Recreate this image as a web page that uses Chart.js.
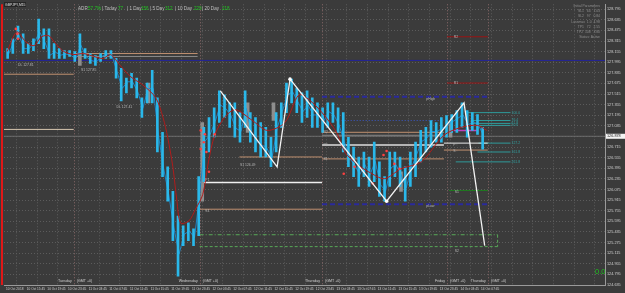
<!DOCTYPE html>
<html>
<head>
<meta charset="utf-8">
<script src="https://cdn.jsdelivr.net/npm/chart.js@4.4.1/dist/chart.umd.min.js"></script>
<style>
  html, body { margin: 0; padding: 0; background: #3b3b3b; overflow: hidden; }
</style>
</head>
<body>
<canvas id="chart" width="625" height="293"></canvas>
<script>
// GBPJPY M15, one sample per hour, hours after 10 Oct 11:45
var highs = [128.200,128.349,128.542,128.423,128.275,128.349,128.646,128.498,128.498,128.275,
             128.200,128.171,128.171,128.156,128.423,128.200,128.126,128.096,128.126,128.171,
             128.171,128.052,127.903,127.755,127.829,127.755,127.458,127.681,127.874,127.458,
             126.938,126.418,126.046,125.675,125.527,125.571,125.482,126.269,127.012,127.161,
             127.309,127.562,127.502,127.383,127.383,127.235,127.562,127.235,127.161,127.086,
             127.012,126.863,127.235,127.383,127.681,127.740,127.606,127.532,127.562,127.458,
             127.383,127.309,127.383,127.383,127.309,127.235,126.863,126.715,126.566,126.641,
             126.566,126.789,126.492,126.269,126.641,126.641,126.566,126.418,126.641,126.789,
             126.967,127.012,127.116,127.086,127.161,127.190,127.205,127.265,127.383,127.265,
             127.235,127.205,127.012];
var lows  = [128.052,128.126,128.349,128.126,128.126,128.171,128.275,128.200,128.052,128.052,
             128.052,128.052,128.082,128.007,128.096,128.052,127.978,127.948,128.007,128.052,
             128.052,127.755,127.413,127.532,127.606,127.458,127.161,127.383,127.383,126.641,
             126.269,125.898,125.304,124.769,125.229,125.304,125.229,125.378,126.195,126.641,
             126.863,127.086,127.161,127.012,126.863,126.789,127.012,126.789,126.641,126.566,
             126.566,126.418,126.641,127.012,127.235,127.383,127.235,127.086,127.161,127.012,
             127.012,126.938,127.012,127.086,126.938,126.641,126.418,126.269,126.120,126.269,
             126.120,126.195,125.972,125.898,126.120,126.269,126.120,125.898,126.120,126.269,
             126.492,126.641,126.715,126.789,126.789,126.863,126.938,126.938,127.012,126.863,
             126.967,126.908,126.685];
var closes = [128.12,128.30,128.40,128.20,128.20,128.30,128.45,128.30,128.10,128.15,
              128.10,128.12,128.10,128.05,128.25,128.08,128.02,128.00,128.08,128.12,
              128.10,127.85,127.60,127.70,127.70,127.55,127.30,127.60,127.60,126.90,
              126.40,126.00,125.50,125.10,125.40,125.45,125.35,126.00,126.80,126.90,
              127.10,127.35,127.30,127.20,127.00,126.95,127.30,126.95,126.80,126.75,
              126.70,126.55,127.00,127.25,127.50,127.55,127.40,127.25,127.35,127.20,
              127.20,127.10,127.25,127.20,127.05,126.80,126.55,126.45,126.30,126.45,
              126.30,126.50,126.15,126.05,126.40,126.45,126.30,126.10,126.40,126.60,
              126.80,126.85,126.95,126.95,127.00,127.05,127.10,127.15,127.20,127.05,
              127.10,127.05,126.88];

// grey candles (hour, low, high)
var greyHours = [14.0, 27.3, 37.7, 46.5, 51.5, 76.2, 85.8];
var greyLows  = [127.948, 127.383, 125.898, 126.938, 127.116, 126.046, 126.863];
var greyHighs = [128.156, 127.681, 127.086, 127.383, 127.383, 126.343, 127.086];

// zigzag turning points
var zigHours  = [41.5, 52.5, 55.0, 73.7, 88.7, 92.7];
var zigPrices = [127.562, 126.418, 127.740, 125.898, 127.383, 125.229];

// moving average line
var maHours  = [0.2, 2.1, 3.8, 5.4, 6.9, 8.3, 9.6, 11.2, 13.1, 15.0, 17.0, 18.8, 20.2, 22.1, 24.0,
                26.5, 29.0, 30.4, 31.3, 32.3, 33.1, 33.8, 35.4, 36.7, 38.1, 39.2, 40.4, 42.3, 44.4,
                47.7, 50.6, 54.0, 56.7, 58.7, 61.2, 64.0, 65.6, 67.9, 70.2, 73.3, 76.5, 80.4, 84.8,
                88.1, 91.3, 93.1];
var maPrices = [128.156, 128.453, 128.304, 128.245, 128.379, 128.394, 128.275, 128.156, 128.111,
                128.126, 128.082, 128.052, 128.111, 127.948, 127.784, 127.651, 127.458, 127.161,
                126.863, 126.418, 125.898, 125.571, 125.601, 125.779, 126.002, 126.492, 126.893,
                127.161, 127.279, 127.116, 126.967, 127.086, 127.502, 127.428, 127.235, 126.938,
                126.641, 126.462, 126.343, 126.239, 126.389, 126.492, 126.893, 127.012, 127.042,
                126.967];

// fractal dots
var dotHours  = [1.9, 2.2, 2.3, 37.7, 38.5, 37.7, 38.8, 39.3, 38.3, 40.4, 65.4, 67.5, 71.0, 73.1, 73.7, 75.2, 76.2];
var dotPrices = [128.498, 128.423, 128.349, 126.967, 126.908, 126.685, 126.641, 126.343, 126.789, 126.908,
                 126.314, 126.418, 126.165, 126.596, 126.655, 126.462, 126.389];

// horizontal levels: price, from hour, to hour
var levelPrice = [128.022, 128.126, 128.082, 127.814, 126.982, 126.878, 126.180, 126.566, 125.778,
                  126.938, 126.893, 126.745, 126.537, 126.775, 126.670, 127.473, 125.853, 127.116,
                  128.379, 127.681, 126.061, 125.393, 125.214, 126.967];
var levelFrom  = [-0.4, 13.1, 13.1, -0.4, -0.4, -0.4, 37.5, 45.2, 37.5,
                  61.2, 61.2, 61.2, 61.2, 84.8, 84.8, 61.2, 61.2, 65.0,
                  85.4, 85.4, 85.8, 37.5, 37.5, 86.7];
var levelTo    = [116, 37.1, 37.1, 13.1, 13.1, 116, 61.2, 61.2, 61.2,
                  84.8, 84.8, 84.8, 84.8, 93.3, 93.3, 93.3, 93.3, 84.8,
                  93.3, 93.3, 93.3, 95.2, 95.2, 91.4];

// fibonacci levels
var fibPrice = [127.235, 127.116, 127.072, 127.042, 126.775, 126.641, 126.492];
var fibFrom  = [89.4, 90.0, 90.0, 90.0, 91.5, 91.3, 87.1];
var fibNames = ['100.0', '76.4', '61.8', '50.0', '127.2', '161.8', '261.8'];

// axes
var yTicks = [124.635, 124.795, 124.955, 125.115, 125.275, 125.435, 125.595, 125.755, 125.915,
              126.075, 126.235, 126.395, 126.555, 126.715, 126.875, 127.035, 127.195, 127.355,
              127.515, 127.675, 127.835, 127.995, 128.155, 128.315, 128.475, 128.635, 128.795];
var xTicks = [0, 4, 8, 12, 16, 20, 24, 28, 32, 36, 40, 44, 48, 52, 56, 60, 64, 68, 72, 76, 80, 84, 88, 92,
              96, 100, 104, 108, 112];
var xLabels = ['10 Oct 2018', '10 Oct 15:45', '10 Oct 19:45', '10 Oct 23:45', '11 Oct 03:45', '11 Oct 07:45',
               '11 Oct 11:45', '11 Oct 15:45', '11 Oct 19:45', '11 Oct 23:45', '12 Oct 03:45', '12 Oct 07:45',
               '12 Oct 11:45', '12 Oct 15:45', '12 Oct 19:45', '12 Oct 23:45', '13 Oct 03:45', '13 Oct 07:45',
               '13 Oct 11:45', '13 Oct 15:45', '13 Oct 19:45', '13 Oct 23:45', '14 Oct 03:45', '14 Oct 07:45'];
var sepHours = [13.1, 37.5, 61.2, 85.4, 93.3];
var sepNames = ['Tuesday', 'Wednesday', 'Thursday', 'Friday', 'Thursday'];
var bidPrice = 126.878;

var FONT = '"Liberation Sans", Arial, sans-serif';

var levelLook = [
  ['#23239a', 1, []], ['#c09070', 1, []], ['#8c8c8c', 1, []], ['#c09070', 1, []], ['#d8c8b0', 1, []],
  ['#6c6c6c', 1, []], ['#f0f0f0', 1.5, []], ['#c09070', 1, []], ['#c09070', 1, []],
  ['#c09070', 1, []], ['#8c8c8c', 1, []], ['#b4b4b4', 2, []], ['#c09070', 1, []], ['#e8e8e8', 1, []],
  ['#c09070', 1, []], ['#2a2a9c', 2, [5, 3]], ['#2a2a9c', 2, [5, 3]], ['#3a58c8', 1, [1, 2]],
  ['#9a1414', 1, []], ['#9a1414', 1, []], ['#1f7a1f', 1, []], ['#58a858', 1, [4, 2, 1, 2]],
  ['#58a858', 1, [3, 2]], ['#c040c0', 1.5, []]
];

var datasets = [];
levelPrice.forEach(function (p, i) {
  datasets.push({
    type: 'line', data: [{x: levelFrom[i], y: p}, {x: levelTo[i], y: p}],
    borderColor: levelLook[i][0], borderWidth: levelLook[i][1], borderDash: levelLook[i][2],
    pointRadius: 0, order: 5
  });
});
fibPrice.forEach(function (p, i) {
  datasets.push({
    type: 'line', data: [{x: fibFrom[i], y: p}, {x: 97.7, y: p}],
    borderColor: '#2f9a9a', borderWidth: 1, pointRadius: 0, order: 5
  });
});
datasets.push({
  type: 'line', data: [{x: 95.2, y: 125.393}, {x: 95.2, y: 125.214}],
  borderColor: '#58a858', borderWidth: 1, borderDash: [3, 2], pointRadius: 0, order: 5
});
datasets.push({
  type: 'bar', data: greyHours.map(function (h, i) { return {x: h, y: [greyLows[i], greyHighs[i]]}; }),
  backgroundColor: '#8e8e8e', barThickness: 3, order: 4
});
datasets.push({
  type: 'bar', data: highs.map(function (v, i) { return {x: i + 0.5, y: [lows[i], v]}; }),
  backgroundColor: '#2ab8ea', barThickness: 2, order: 3
});
datasets.push({
  type: 'line', data: closes.map(function (v, i) { return {x: i + 0.5, y: v}; }),
  borderColor: '#1c86c8', borderWidth: 1, pointRadius: 0, order: 3
});
datasets.push({
  type: 'line', data: maHours.map(function (h, i) { return {x: h, y: maPrices[i]}; }),
  borderColor: '#b01c1c', borderWidth: 1, pointRadius: 0, tension: 0.3, order: 2
});
datasets.push({
  type: 'line', data: dotHours.map(function (h, i) { return {x: h, y: dotPrices[i]}; }),
  showLine: false, pointRadius: 1.3, pointBackgroundColor: '#ff4040', pointBorderWidth: 0, order: 1
});
datasets.push({
  type: 'line', data: zigHours.map(function (h, i) { return {x: h, y: zigPrices[i]}; }),
  borderColor: '#f2f2f2', borderWidth: 1.3, pointRadius: [0, 0, 1.8, 1.8, 0, 0],
  pointBackgroundColor: '#ffffff', pointBorderWidth: 0, order: 0
});

function txt(ctx, s, x, y, color, size, align) {
  ctx.font = size + 'px ' + FONT;
  ctx.fillStyle = color;
  ctx.textAlign = align || 'left';
  ctx.textBaseline = 'middle';
  ctx.fillText(s, x, y);
}

var decor = {
  id: 'decor',
  beforeDraw: function (chart) {
    var ctx = chart.ctx;
    ctx.save();
    ctx.fillStyle = '#3b3b3b';
    ctx.fillRect(0, 0, chart.width, chart.height);
    ctx.restore();
  },
  beforeDatasetsDraw: function (chart) {
    var ctx = chart.ctx, a = chart.chartArea, xs = chart.scales.x;
    ctx.save();
    ctx.strokeStyle = '#8a6a6a';
    ctx.lineWidth = 1;
    ctx.setLineDash([1, 2]);
    sepHours.forEach(function (h) {
      var x = Math.round(xs.getPixelForValue(h)) + 0.5;
      ctx.beginPath(); ctx.moveTo(x, a.top); ctx.lineTo(x, a.bottom); ctx.stroke();
    });
    ctx.setLineDash([]);
    ctx.strokeStyle = '#e01818';
    ctx.lineWidth = 2;
    ctx.beginPath(); ctx.moveTo(2, a.top); ctx.lineTo(2, a.bottom); ctx.stroke();
    ctx.restore();
  },
  afterDraw: function (chart) {
    var ctx = chart.ctx, a = chart.chartArea, xs = chart.scales.x, ys = chart.scales.y;
    var X = function (h) { return xs.getPixelForValue(h); };
    var Y = function (p) { return ys.getPixelForValue(p); };
    ctx.save();
    // day names
    sepHours.forEach(function (h, i) {
      txt(ctx, sepNames[i], X(h) - 2, a.bottom - 4, '#d0d0d0', 3.6, 'right');
      txt(ctx, '(GMT +0)', X(h) + 3, a.bottom - 4, '#d0d0d0', 3.6, 'left');
    });
    // title and header
    ctx.fillStyle = '#262626';
    ctx.fillRect(4, 2, 22, 5);
    txt(ctx, 'GBPJPY,M15', 5, 4.6, '#e0e0e0', 3.4);
    var hdr = [['ADR', 78, 0], ['57.7%', 88, 1], ['| Today', 102, 0], ['77', 118, 1], ['| 1 Day', 127, 0],
               ['156', 141, 1], ['| 5 Day', 150, 0], ['312', 165, 1], ['| 10 Day', 175, 0], ['229', 194, 1],
               ['| 20 Day', 202, 0], ['218', 222, 1]];
    hdr.forEach(function (s) { txt(ctx, s[0], s[1], 9, s[2] ? '#22c422' : '#bdbdbd', 4.6); });
    // parameter panel
    var panel = ['Initial Parameters', 'SL1   64   1.03', 'SL2   97   0.84', 'Lossmax  1.0  4.98',
                 'TP1   72   2.55', 'TP2  108   3.80', 'Status: Active'];
    panel.forEach(function (s, i) { txt(ctx, s, 600, 6 + i * 5.2, '#8e8e8e', 3.4, 'right'); });
    // level tags
    var tags = [['R2', 86.7, 128.379], ['R1', 86.7, 127.681], ['S1', 86.9, 126.040], ['S2', 86.9, 125.140],
                ['pHigh', 81.4, 127.440], ['pLow', 81.4, 125.820], ['P1', 38.6, 126.215], ['S1', 38.6, 125.750],
                ['S1 126.49', 45.3, 126.440], ['R2 :', 61.5, 126.940], ['R1 :', 61.5, 126.745], ['S1 :', 61.5, 126.537],
                ['DL 127.81', 2.3, 127.945], ['S1 127.85', 14.5, 127.870], ['DL 127.41', 21.4, 127.325],
                ['P :', 86.6, 126.745], ['S :', 86.6, 126.650]];
    tags.forEach(function (t) { txt(ctx, t[0], X(t[1]), Y(t[2]), '#b8b8b8', 3.4); });
    fibPrice.forEach(function (p, i) { txt(ctx, fibNames[i], X(97.9), Y(p), '#2fa0a0', 3.4); });
    // bid box
    var by = Y(bidPrice);
    ctx.fillStyle = '#f4f4f4';
    ctx.fillRect(a.right + 1, by - 2.5, 19, 5);
    txt(ctx, bidPrice.toFixed(3), a.right + 2, by, '#202020', 3.8);
    // spread counter
    txt(ctx, '0.0', 595, 272, '#1fbf1f', 7.5);
    ctx.restore();
  }
};

new Chart(document.getElementById('chart'), {
  type: 'bar',
  data: { datasets: datasets },
  options: {
    responsive: false,
    animation: false,
    layout: { padding: 0 },
    plugins: { legend: { display: false }, tooltip: { enabled: false } },
    scales: {
      x: {
        type: 'linear', min: -0.4, max: 116, offset: false,
        afterBuildTicks: function (s) { s.ticks = xTicks.map(function (v) { return {value: v}; }); },
        afterFit: function (s) { s.height = 8; },
        grid: { color: '#5c5c5c', drawTicks: false },
        border: { color: '#9a9a9a', dash: [1, 2] },
        ticks: {
          autoSkip: false, maxRotation: 0, align: 'start', padding: 2, color: '#d0d0d0',
          font: { size: 3.2, family: FONT },
          callback: function (v, i) { return xLabels[i] || ''; }
        }
      },
      y: {
        position: 'right', min: 124.635, max: 128.869,
        afterBuildTicks: function (s) { s.ticks = yTicks.map(function (v) { return {value: v}; }); },
        afterFit: function (s) { s.width = 20; },
        grid: { color: '#5c5c5c', drawTicks: false },
        border: { color: '#9a9a9a', dash: [1, 2] },
        ticks: {
          padding: 2, color: '#d0d0d0', font: { size: 3.8, family: FONT },
          callback: function (v) { return Number(v).toFixed(3); }
        }
      }
    }
  },
  plugins: [decor]
});
</script>
</body>
</html>
